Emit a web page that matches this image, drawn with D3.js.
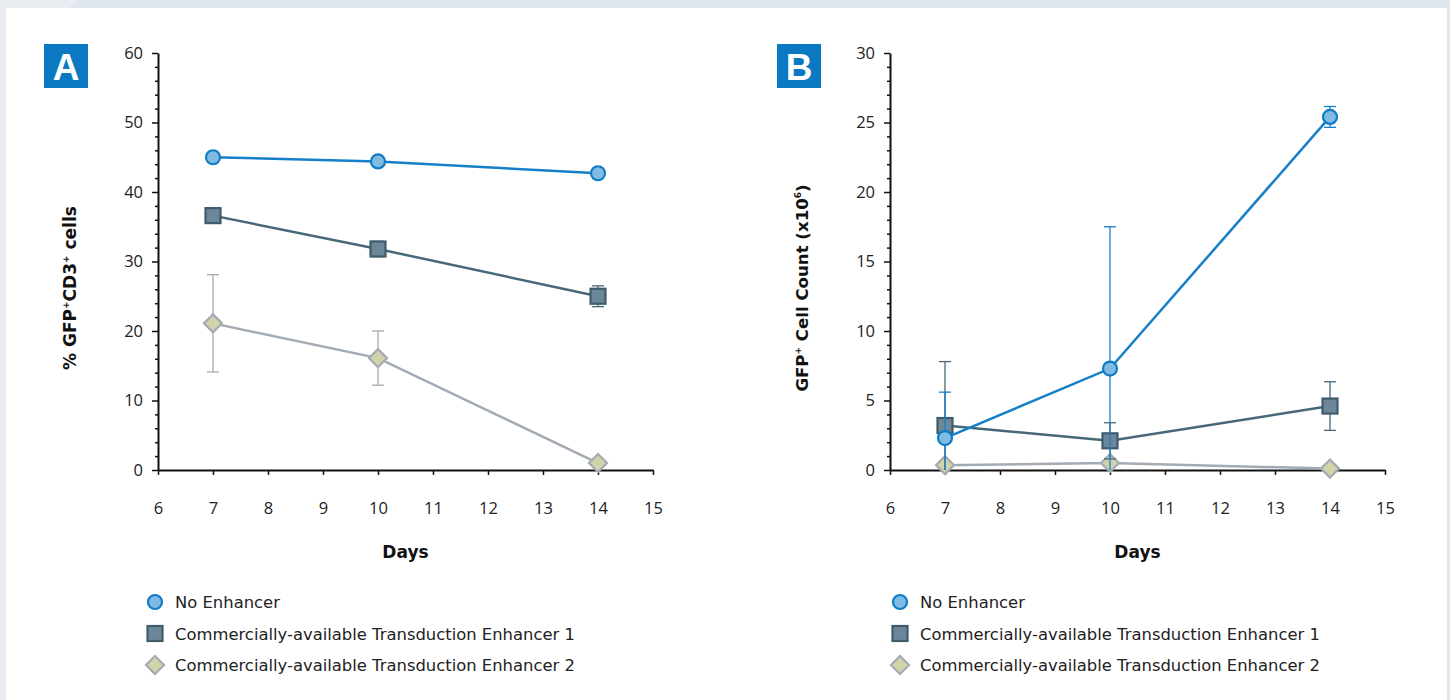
<!DOCTYPE html>
<html>
<head>
<meta charset="utf-8">
<script src="https://cdn.jsdelivr.net/npm/d3@7"></script>
<style>
  html, body { margin: 0; padding: 0; background: #dfe6ed; }
  svg { display: block; font-family: "DejaVu Sans", sans-serif; }
</style>
</head>
<body>
<svg id="chart" width="1450" height="700"></svg>
<script>
// Days sampled and series labels
const days = [7, 10, 14];
const seriesNames = [
  "No Enhancer",
  "Commercially-available Transduction Enhancer 1",
  "Commercially-available Transduction Enhancer 2"
];
const xTicks = [6, 7, 8, 9, 10, 11, 12, 13, 14, 15];

// Panel A: % GFP+CD3+ cells (mean and error)
const pctNoEnhancer = [45.0, 44.4, 42.7];
const pctNoEnhancerErr = [0.2, 0.2, 0.2];
const pctEnhancer1 = [36.6, 31.8, 25.0];
const pctEnhancer1Err = [0.5, 1.1, 1.5];
const pctEnhancer2 = [21.1, 16.1, 1.0];
const pctEnhancer2Err = [7.0, 3.9, 0.2];
const pctTicks = [0, 10, 20, 30, 40, 50, 60];

// Panel B: GFP+ cell count (x10^6)
const countNoEnhancer = [2.3, 7.3, 25.4];
const countNoEnhancerErr = [3.3, 10.2, 0.75];
const countEnhancer1 = [3.2, 2.1, 4.6];
const countEnhancer1Err = [4.6, 1.3, 1.75];
const countEnhancer2 = [0.35, 0.5, 0.1];
const countEnhancer2Err = [0.1, 0.1, 0.05];
const countTicks = [0, 5, 10, 15, 20, 25, 30];

const styles = [
  { line: "#1580c8", fill: "#80bbe3", stroke: "#0f7cc5", shape: "circle" },
  { line: "#476878", fill: "#6b8799", stroke: "#3f5b6c", shape: "square" },
  { line: "#a2abb3", fill: "#d3d3aa", stroke: "#a3acb3", shape: "diamond" }
];

const svg = d3.select("#chart");

// page background and white card
svg.append("rect").attr("width", 1450).attr("height", 700).attr("fill", "#dfe6ed");
svg.append("polygon").attr("points", "0,0 80,0 68,8 6,8 6,700 0,700").attr("fill", "#e9edf1");
svg.append("rect").attr("x", 6).attr("y", 8).attr("width", 1441).attr("height", 692).attr("fill", "#ffffff");

function drawPanel(cfg) {
  const g = svg.append("g");
  const x = d3.scaleLinear().domain([6, 15]).range([cfg.left, cfg.left + 495]);
  const y = d3.scaleLinear().domain([cfg.yTicks[0], cfg.yTicks[cfg.yTicks.length - 1]]).range([470, 53]);

  // panel letter badge
  g.append("rect").attr("x", cfg.badgeX).attr("y", 44).attr("width", 44).attr("height", 44).attr("fill", "#0a79c2");
  g.append("text").attr("x", cfg.badgeX + 22).attr("y", 80).attr("text-anchor", "middle")
    .attr("fill", "#fff").attr("font-size", 37).attr("font-weight", 700)
    .attr("font-family", "Liberation Sans, Arial, sans-serif").text(cfg.letter);

  // minor ticks on the y axis
  const yMax = cfg.yTicks[cfg.yTicks.length - 1];
  const minors = d3.range(0, yMax + 1e-9, cfg.minorStep).filter(v => !cfg.yTicks.includes(+v.toFixed(3)));
  g.append("g").attr("transform", `translate(${cfg.left},0)`)
    .call(d3.axisLeft(y).tickValues(minors).tickSize(3).tickFormat(""))
    .call(a => a.select(".domain").remove())
    .call(a => a.selectAll("line").attr("stroke", "#111").attr("stroke-width", 1.5));

  // y axis
  g.append("g").attr("transform", `translate(${cfg.left},0)`)
    .call(d3.axisLeft(y).tickValues(cfg.yTicks).tickSize(6).tickSizeOuter(0).tickPadding(9))
    .call(a => a.select(".domain").attr("stroke", "#111").attr("stroke-width", 2))
    .call(a => a.selectAll("line").attr("stroke", "#111").attr("stroke-width", 1.5))
    .call(a => a.selectAll("text").attr("font-size", 16.5).attr("fill", "#222").attr("font-family", "Open Sans, sans-serif"));

  // x axis
  g.append("g").attr("transform", "translate(0,470)")
    .call(d3.axisBottom(x).tickValues(xTicks).tickSize(5).tickSizeOuter(0).tickPadding(27))
    .call(a => a.select(".domain").attr("stroke", "#111").attr("stroke-width", 2))
    .call(a => a.selectAll("line").attr("stroke", "#111").attr("stroke-width", 1.5))
    .call(a => a.selectAll("text").attr("font-size", 16.5).attr("fill", "#222").attr("font-family", "Open Sans, sans-serif"));

  // axis titles
  g.append("text").attr("x", x(10.5)).attr("y", 558).attr("text-anchor", "middle")
    .attr("font-size", 17).attr("font-weight", 700).attr("fill", "#111").text("Days");
  const yt = g.append("text").attr("transform", `translate(${cfg.left - 82},288) rotate(-90)`)
    .attr("text-anchor", "middle").attr("font-size", cfg.titleSize).attr("font-weight", 700).attr("fill", "#111");
  cfg.yTitle(yt);

  // series, drawn back to front
  const yMin = cfg.yTicks[0];
  [2, 1, 0].forEach(i => {
    const vals = cfg.values[i], errs = cfg.errors[i], st = styles[i];
    const pts = days.map((d, k) => ({ d, v: vals[k], e: errs[k] }));
    const sg = g.append("g");

    // error bars
    pts.forEach(p => {
      const hi = p.v + p.e, lo = Math.max(yMin, p.v - p.e);
      sg.append("line").attr("x1", x(p.d)).attr("x2", x(p.d)).attr("y1", y(hi)).attr("y2", y(lo))
        .attr("stroke", st.line).attr("stroke-width", 1.3);
      sg.append("line").attr("x1", x(p.d) - 6).attr("x2", x(p.d) + 6).attr("y1", y(hi)).attr("y2", y(hi))
        .attr("stroke", st.line).attr("stroke-width", 1.3);
      if (p.v - p.e > yMin) {
        sg.append("line").attr("x1", x(p.d) - 6).attr("x2", x(p.d) + 6).attr("y1", y(lo)).attr("y2", y(lo))
          .attr("stroke", st.line).attr("stroke-width", 1.3);
      }
    });

    sg.append("path").datum(pts)
      .attr("d", d3.line().x(p => x(p.d)).y(p => y(p.v)))
      .attr("fill", "none").attr("stroke", st.line).attr("stroke-width", 2.5);

    pts.forEach(p => drawMarker(sg, st, x(p.d), y(p.v)));
  });

  // legend
  seriesNames.forEach((name, i) => {
    const ly = 602 + i * 31.5;
    drawMarker(g, styles[i], cfg.legendX, ly);
    g.append("text").attr("x", cfg.legendX + 20).attr("y", ly + 6)
      .attr("font-size", 16.4).attr("fill", "#222").text(name);
  });
}

function drawMarker(g, st, cx, cy) {
  if (st.shape === "circle") {
    g.append("circle").attr("cx", cx).attr("cy", cy).attr("r", 7)
      .attr("fill", st.fill).attr("stroke", st.stroke).attr("stroke-width", 2.2);
  } else if (st.shape === "square") {
    g.append("rect").attr("x", cx - 7.5).attr("y", cy - 7.5).attr("width", 15).attr("height", 15)
      .attr("fill", st.fill).attr("stroke", st.stroke).attr("stroke-width", 2.2);
  } else {
    g.append("path").attr("d", `M${cx},${cy - 9}L${cx + 9},${cy}L${cx},${cy + 9}L${cx - 9},${cy}Z`)
      .attr("fill", st.fill).attr("stroke", st.stroke).attr("stroke-width", 2.2);
  }
}

drawPanel({
  letter: "A", badgeX: 44, left: 158, legendX: 155, minorStep: 2, titleSize: 17,
  yTicks: pctTicks,
  values: [pctNoEnhancer, pctEnhancer1, pctEnhancer2],
  errors: [pctNoEnhancerErr, pctEnhancer1Err, pctEnhancer2Err],
  yTitle: t => {
    t.append("tspan").text("% GFP");
    t.append("tspan").attr("font-size", 9).attr("dy", -7).text("+");
    t.append("tspan").attr("dy", 7).text("CD3");
    t.append("tspan").attr("font-size", 9).attr("dy", -7).text("+");
    t.append("tspan").attr("dy", 7).text(" cells");
  }
});

drawPanel({
  letter: "B", badgeX: 777, left: 890, legendX: 900, minorStep: 1, titleSize: 16.6,
  yTicks: countTicks,
  values: [countNoEnhancer, countEnhancer1, countEnhancer2],
  errors: [countNoEnhancerErr, countEnhancer1Err, countEnhancer2Err],
  yTitle: t => {
    t.append("tspan").text("GFP");
    t.append("tspan").attr("font-size", 9).attr("dy", -7).text("+");
    t.append("tspan").attr("dy", 7).text(" Cell Count (x10");
    t.append("tspan").attr("font-size", 9).attr("dy", -7).text("6");
    t.append("tspan").attr("dy", 7).text(")");
  }
});
</script>
</body>
</html>
